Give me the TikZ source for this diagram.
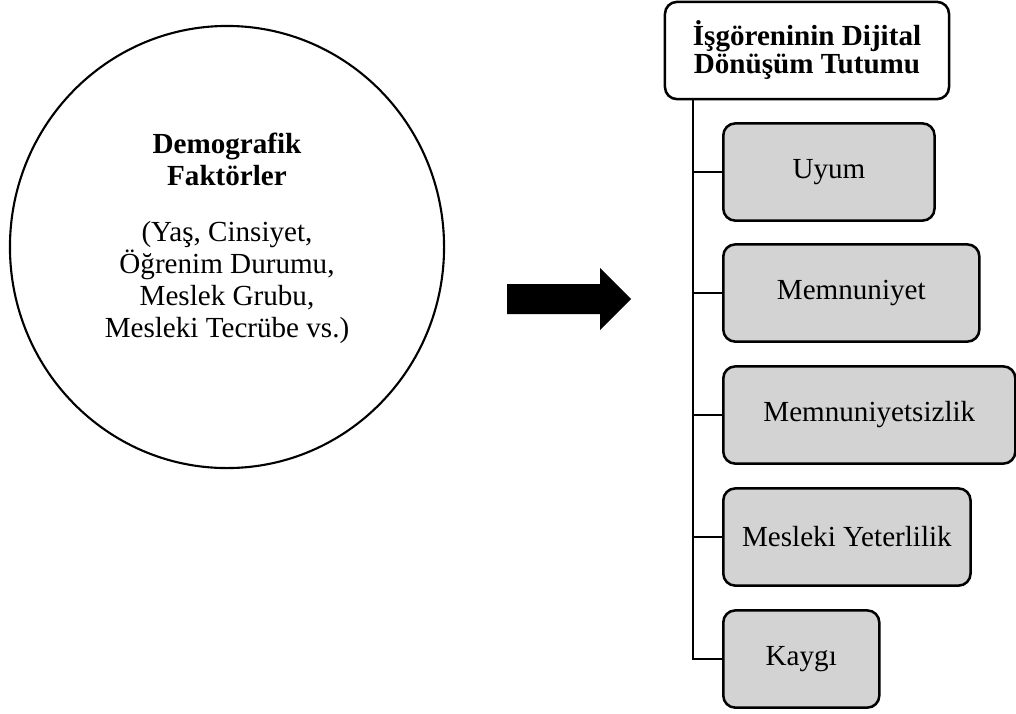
\documentclass[tikz,border=0pt]{standalone}
\usepackage{fontspec}
\setmainfont{Liberation Serif}
\usetikzlibrary{shapes.geometric}

\definecolor{boxgray}{RGB}{211,211,211}

\tikzset{
  headbox/.style = {draw, line width=1.8pt, rounded corners=0.3cm, fill=white, align=center,
                    font=\bfseries\fontsize{20.7}{19.9}\selectfont,
                    minimum width=7.1cm, minimum height=2.43cm, inner sep=0pt},
  dimbox/.style  = {draw, line width=1.8pt, rounded corners=0.3cm, fill=boxgray, anchor=west,
                    font=\fontsize{20.7}{24}\selectfont, minimum height=2.43cm, inner sep=0pt},
  branch/.style  = {line width=2pt}
}

\begin{document}
\begin{tikzpicture}[x=0.025cm, y=-0.025cm]

\useasboundingbox (0,0) rectangle (1016,713);

% left side
\node [draw, ellipse, line width=1.5pt, minimum width=10.85cm, minimum height=11.05cm, inner sep=0pt] (demo) at (227,247) {};
\node [align=center, font=\fontsize{20.7}{22.8}\selectfont] (demotext) at (227,238)
  {\textbf{Demografik}\\\textbf{Faktörler}\\[0.6cm]
   (Yaş, Cinsiyet,\\Öğrenim Durumu,\\Meslek Grubu,\\Mesleki Tecrübe vs.)};

\fill (507,284) -- (600,284) -- (600,268) -- (631,299) -- (600,330) -- (600,314) -- (507,314) -- cycle;

% right side
\node [headbox] (tutum) at (807,50.5) {İşgöreninin Dijital\\Dönüşüm Tutumu};

\node [dimbox, minimum width=5.28cm] (uyum)    at (722,172) {Uyum};
\node [dimbox, minimum width=6.4cm]  (memnun)  at (722,293) {Memnuniyet};
\node [dimbox, minimum width=7.3cm]  (memsiz)  at (722,415) {Memnuniyetsizlik};
\node [dimbox, minimum width=6.18cm] (yeter)   at (722,537) {Mesleki Yeterlilik};
\node [dimbox, minimum width=3.9cm]  (kaygi)   at (722,659) {Kaygı};

\coordinate (trunk) at (693,99);

\draw [branch] (trunk) |- (kaygi.west);
\foreach \n in {uyum, memnun, memsiz, yeter}
  \draw [branch] (trunk |- \n.west) -- (\n.west);

\end{tikzpicture}
\end{document}
